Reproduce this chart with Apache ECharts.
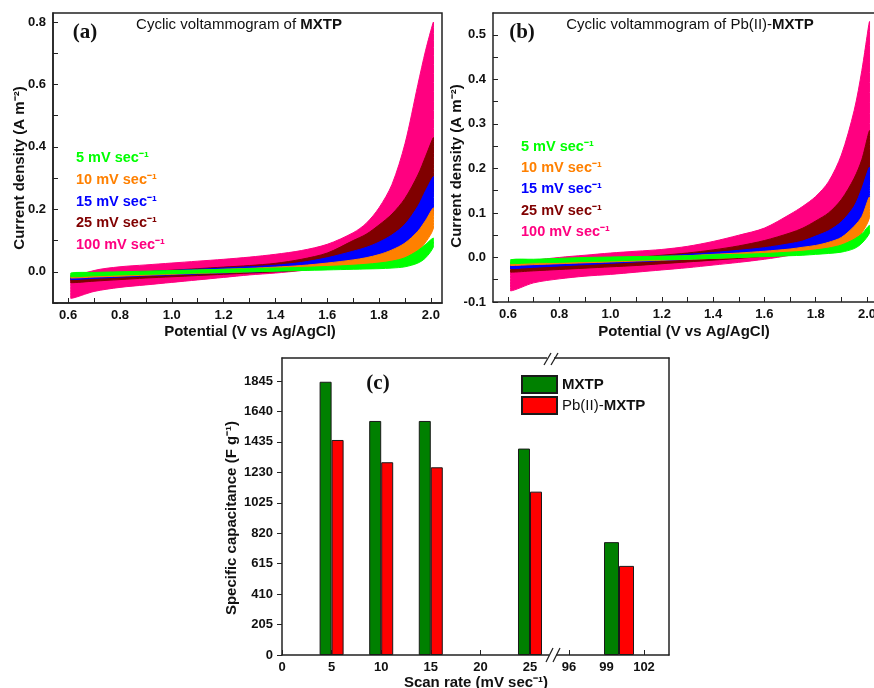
<!DOCTYPE html>
<html><head><meta charset="utf-8">
<script src="https://cdn.jsdelivr.net/npm/echarts@6/dist/echarts.min.js"></script>
<style>html,body{margin:0;padding:0;background:#fff}#c{width:874px;height:688px}</style>
</head><body><div id="c"></div><script>
// ---------- DATA ----------
const potential = [0.61,0.7,0.8,0.9,1.0,1.1,1.2,1.3,1.4,1.5,1.6,1.7,1.75,1.8,1.85,1.9,1.95,1.98,2.01];
const rateLabels = ['5 mV sec\u207B\u00B9','10 mV sec\u207B\u00B9','15 mV sec\u207B\u00B9','25 mV sec\u207B\u00B9','100 mV sec\u207B\u00B9'];
// (a) MXTP : forward (upper) and reverse (lower) branches
const aGreenFwd  = [-0.004,-0.002,0.0,0.002,0.004,0.006,0.008,0.010,0.012,0.014,0.017,0.021,0.024,0.028,0.034,0.045,0.068,0.088,0.108];
const aGreenRev  = [-0.016,-0.013,-0.010,-0.008,-0.006,-0.004,-0.002,0.0,0.002,0.004,0.006,0.008,0.009,0.010,0.012,0.016,0.028,0.045,0.080];
const aOrangeFwd = [-0.010,-0.007,-0.004,-0.001,0.002,0.005,0.008,0.011,0.015,0.020,0.028,0.038,0.045,0.055,0.070,0.092,0.130,0.165,0.205];
const aOrangeRev = [-0.020,-0.017,-0.014,-0.011,-0.008,-0.005,-0.003,0.0,0.003,0.006,0.010,0.015,0.019,0.024,0.032,0.045,0.068,0.095,0.140];
const aBlueFwd   = [-0.012,-0.008,-0.004,0.0,0.004,0.008,0.012,0.016,0.021,0.030,0.045,0.066,0.078,0.095,0.118,0.152,0.210,0.260,0.305];
const aBlueRev   = [-0.025,-0.021,-0.017,-0.013,-0.010,-0.007,-0.004,-0.001,0.002,0.006,0.011,0.018,0.024,0.032,0.044,0.062,0.095,0.130,0.190];
const aMaroonFwd = [-0.015,-0.010,-0.005,0.0,0.005,0.010,0.015,0.020,0.027,0.040,0.060,0.100,0.120,0.150,0.185,0.235,0.310,0.370,0.430];
const aMaroonRev = [-0.035,-0.030,-0.025,-0.020,-0.016,-0.012,-0.008,-0.004,0.0,0.005,0.012,0.022,0.030,0.042,0.060,0.085,0.130,0.180,0.260];
const aPinkFwd   = [-0.025,0.004,0.016,0.022,0.028,0.034,0.040,0.047,0.056,0.068,0.088,0.125,0.155,0.205,0.280,0.410,0.600,0.710,0.800];
const aPinkRev   = [-0.085,-0.063,-0.050,-0.042,-0.034,-0.026,-0.018,-0.010,-0.004,0.004,0.014,0.030,0.042,0.060,0.085,0.120,0.190,0.260,0.380];
// (b) Pb(II)-MXTP
const bGreenFwd  = [-0.005,-0.004,-0.002,0.0,0.001,0.002,0.003,0.004,0.006,0.007,0.009,0.012,0.014,0.017,0.021,0.028,0.041,0.053,0.072];
const bGreenRev  = [-0.014,-0.012,-0.011,-0.009,-0.008,-0.006,-0.005,-0.004,-0.002,0.0,0.002,0.004,0.005,0.007,0.009,0.012,0.020,0.032,0.055];
const bOrangeFwd = [-0.010,-0.008,-0.006,-0.004,-0.002,0.0,0.002,0.004,0.007,0.010,0.014,0.019,0.023,0.027,0.034,0.045,0.070,0.092,0.136];
const bOrangeRev = [-0.018,-0.016,-0.014,-0.012,-0.010,-0.008,-0.006,-0.004,-0.002,0.0,0.003,0.006,0.008,0.011,0.015,0.022,0.035,0.055,0.090];
const bBlueFwd   = [-0.015,-0.012,-0.009,-0.006,-0.003,0.0,0.003,0.007,0.011,0.016,0.022,0.031,0.037,0.048,0.060,0.080,0.115,0.155,0.203];
const bBlueRev   = [-0.025,-0.022,-0.019,-0.016,-0.013,-0.010,-0.007,-0.004,-0.001,0.002,0.005,0.010,0.014,0.019,0.026,0.036,0.056,0.080,0.130];
const bMaroonFwd = [-0.020,-0.016,-0.012,-0.008,-0.004,0.0,0.005,0.010,0.017,0.026,0.038,0.055,0.066,0.082,0.100,0.130,0.178,0.220,0.285];
const bMaroonRev = [-0.033,-0.030,-0.027,-0.024,-0.021,-0.018,-0.014,-0.010,-0.006,-0.002,0.003,0.010,0.015,0.022,0.032,0.048,0.075,0.110,0.170];
const bPinkFwd   = [-0.030,-0.008,0.000,0.005,0.010,0.014,0.018,0.025,0.036,0.050,0.066,0.097,0.115,0.137,0.170,0.230,0.330,0.420,0.530];
const bPinkRev   = [-0.075,-0.057,-0.048,-0.042,-0.038,-0.033,-0.028,-0.023,-0.017,-0.011,-0.004,0.005,0.012,0.020,0.032,0.050,0.090,0.140,0.220];
// (c) specific capacitance
const scanRatesLow = [5, 10, 15, 25];
const mxtpLow = [1840, 1576, 1576, 1390];
const pbLow   = [1448, 1298, 1264, 1100];
const scanRatesHigh = [100];
const mxtpHigh = [760];
const pbHigh   = [600];
const capTicks = [0,205,410,615,820,1025,1230,1435,1640,1845];
const scanTicksLow = [0,5,10,15,20,25];
const scanTicksHigh = [96,99,102];

// ---------- STYLE ----------
const FONT = 'Arial, "Liberation Sans", Helvetica, sans-serif';
const SERIF = '"Palatino Linotype", "Book Antiqua", "Liberation Serif", "DejaVu Serif", serif';
const AX = '#222';
const colors = ['#00ff00','#ff8000','#0000ff','#800000','#ff0080'];

function range(a, b, s){ const r=[]; for(let v=a; v<=b+1e-9; v+=s) r.push(+v.toFixed(3)); return r; }

function loopSeries(name, color, fwd, rev, gi){
  const pts = [];
  for (let i=0;i<potential.length;i++) pts.push([potential[i], fwd[i]]);
  for (let i=potential.length-1;i>=0;i--) pts.push([potential[i], rev[i]]);
  return {
    type:'custom', name:name, xAxisIndex:gi, yAxisIndex:gi, data:pts,
    encode:{x:0,y:1}, silent:true, animation:false, clip:true,
    renderItem:function(params, api){
      if (params.dataIndex !== 0) return null;
      const points = pts.map(p => api.coord(p));
      let x0=Infinity,y0=Infinity,x1=-Infinity,y1=-Infinity;
      points.forEach(p=>{x0=Math.min(x0,p[0]);y0=Math.min(y0,p[1]);x1=Math.max(x1,p[0]);y1=Math.max(y1,p[1]);});
      return {type:'polygon', shape:{points:points, smooth:0.3, smoothConstraint:[[x0,y0],[x1,y1]]}, style:{fill:color, stroke:color, lineWidth:1}};
    }
  };
}

function cvXAxis(gi, max){
  return {type:'value', gridIndex:gi, min:0.5415, max:max,
    axisLine:{show:true, onZero:false, lineStyle:{color:AX,width:1.5}},
    axisTick:{show:true, inside:true, length:5, lineStyle:{color:AX}, customValues:range(0.6,2.0,0.1)},
    axisLabel:{customValues:range(0.6,2.0,0.2), formatter:v=>(+v).toFixed(1), color:'#111', fontWeight:'bold', fontSize:13, fontFamily:FONT, margin:6},
    splitLine:{show:false}};
}
function topLine(gi, min, max){
  return {type:'value', gridIndex:gi, position:'top', min:min, max:max,
    axisLine:{show:true, onZero:false, lineStyle:{color:AX,width:1.5}}, axisTick:{show:false}, axisLabel:{show:false}, splitLine:{show:false}};
}
function cvYAxis(gi, min, max, tickStep, labelStart, labelStep){
  return {type:'value', gridIndex:gi, min:min, max:max,
    axisLine:{show:true, onZero:false, lineStyle:{color:AX,width:1.5}},
    axisTick:{show:true, inside:true, length:5, lineStyle:{color:AX}, customValues:range(min, max, tickStep)},
    axisLabel:{customValues:range(labelStart, max, labelStep), formatter:v=>(+v).toFixed(1), color:'#111', fontWeight:'bold', fontSize:13, fontFamily:FONT, margin:7},
    splitLine:{show:false}};
}

function txt(x, y, text, opts){
  return Object.assign({type:'text', x:x, y:y, z:100, silent:true,
    style:Object.assign({text:text, fill:'#111', font:'bold 15px '+FONT, align:'center', verticalAlign:'middle', textAlign:'center', textVerticalAlign:'middle'}, opts && opts.style || {})},
    opts && opts.el || {});
}
function richTitle(x, y, plain, bold){
  return {type:'text', x:x, y:y, z:100, silent:true, style:{
    text:'{n|'+plain+'}{b|'+bold+'}', align:'center', verticalAlign:'middle', textAlign:'center', textVerticalAlign:'middle',
    rich:{n:{fontSize:15, fontFamily:FONT, fill:'#111', color:'#111'}, b:{fontSize:15, fontFamily:FONT, fontWeight:'bold', fill:'#111', color:'#111'}}}};
}

const graphics = [];
// titles & panel tags
graphics.push(richTitle(239, 25, 'Cyclic voltammogram of ', 'MXTP'));
graphics.push(richTitle(690, 25, 'Cyclic voltammogram of Pb(II)-', 'MXTP'));
graphics.push(txt(85, 33, '(a)', {style:{font:'bold 21px '+SERIF}}));
graphics.push(txt(522, 33, '(b)', {style:{font:'bold 21px '+SERIF}}));
graphics.push(txt(378, 384, '(c)', {style:{font:'bold 21px '+SERIF}}));
// axis names
graphics.push(txt(20, 168, 'Current density (A m\u207B\u00B2)', {el:{rotation:Math.PI/2}}));
graphics.push(txt(457, 166, 'Current density (A m\u207B\u00B2)', {el:{rotation:Math.PI/2}}));
graphics.push(txt(250, 332, 'Potential (V vs Ag/AgCl)'));
graphics.push(txt(684, 332, 'Potential (V vs Ag/AgCl)'));
graphics.push(txt(232, 518, 'Specific capacitance (F g\u207B\u00B9)', {el:{rotation:Math.PI/2}}));
graphics.push(txt(476, 683, 'Scan rate (mV sec\u207B\u00B9)'));
// rate labels
const aLabelY = [158,180,202,223,245], bLabelY = [147,168,189,211,232];
rateLabels.forEach((t,i)=>{
  graphics.push(txt(76, aLabelY[i], t, {style:{fill:colors[i], font:'bold 14.5px '+FONT, align:'left', textAlign:'left'}}));
  graphics.push(txt(521, bLabelY[i], t, {style:{fill:colors[i], font:'bold 14.5px '+FONT, align:'left', textAlign:'left'}}));
});
// axis break marks on panel (c)
graphics.push({type:'rect', z:99, silent:true, shape:{x:549, y:651, width:7, height:8}, style:{fill:'#fff'}});
graphics.push({type:'rect', z:99, silent:true, shape:{x:547, y:354, width:7, height:8}, style:{fill:'#fff'}});
[[546,662,553,648],[553,662,560,648],[544,365,551,353],[551,365,558,353]].forEach(s=>{
  graphics.push({type:'line', z:100, silent:true, shape:{x1:s[0],y1:s[1],x2:s[2],y2:s[3]}, style:{stroke:AX, lineWidth:1.3}});
});

const option = {
  backgroundColor:'#fff',
  animation:false,
  textStyle:{fontFamily:FONT},
  grid:[
    {left:53, top:13, width:389, height:290, show:true, borderColor:AX, borderWidth:1.5, backgroundColor:'transparent', outerBoundsMode:'none', containLabel:false},
    {left:493, top:13, width:385, height:289, outerBoundsMode:'none', containLabel:false},
    {left:282, top:358, width:271, height:297, outerBoundsMode:'none', containLabel:false},
    {left:553, top:358, width:116, height:297, outerBoundsMode:'none', containLabel:false}
  ],
  xAxis:[
    cvXAxis(0, 2.043), cvXAxis(1, 2.043),
    {type:'value', gridIndex:2, min:0, max:27.32,
      axisLine:{show:true, onZero:false, lineStyle:{color:AX,width:1.5}},
      axisTick:{show:true, inside:true, length:5, lineStyle:{color:AX}, customValues:scanTicksLow},
      axisLabel:{customValues:scanTicksLow, formatter:v=>String(v), color:'#111', fontWeight:'bold', fontSize:13, fontFamily:FONT, margin:6},
      splitLine:{show:false}},
    {type:'value', gridIndex:3, min:94.72, max:104.0,
      axisLine:{show:true, onZero:false, lineStyle:{color:AX,width:1.5}},
      axisTick:{show:true, inside:true, length:5, lineStyle:{color:AX}, customValues:scanTicksHigh},
      axisLabel:{customValues:scanTicksHigh, formatter:v=>String(v), color:'#111', fontWeight:'bold', fontSize:13, fontFamily:FONT, margin:6},
      splitLine:{show:false}},
    topLine(2, 0, 27.32),
    topLine(3, 94.72, 104.0),
    topLine(1, 0.5415, 2.043)
  ],
  yAxis:[
    cvYAxis(0, -0.1, 0.829, 0.1, 0.0, 0.2),
    cvYAxis(1, -0.1, 0.549, 0.05, -0.1, 0.1),
    {type:'value', gridIndex:2, min:0, max:2000,
      axisLine:{show:true, onZero:false, lineStyle:{color:AX,width:1.5}},
      axisTick:{show:true, inside:false, length:5, lineStyle:{color:AX}, customValues:capTicks},
      axisLabel:{customValues:capTicks, formatter:v=>String(Math.round(v)), color:'#111', fontWeight:'bold', fontSize:13, fontFamily:FONT, margin:9},
      splitLine:{show:false}},
    {type:'value', gridIndex:3, position:'right', min:0, max:2000,
      axisLine:{show:true, onZero:false, lineStyle:{color:AX,width:1.5}}, axisTick:{show:false}, axisLabel:{show:false}, splitLine:{show:false}}
  ],
  legend:{
    data:['MXTP','Pb(II)-MXTP'], orient:'vertical', left:521, top:375, padding:0, itemWidth:35, itemHeight:17, itemGap:2,
    icon:'rect', selectedMode:false,
    formatter:n => n==='MXTP' ? '{b|MXTP}' : '{n|Pb(II)-}{b|MXTP}',
    textStyle:{rich:{n:{fontSize:15, fontFamily:FONT, color:'#111', lineHeight:17}, b:{fontSize:15, fontFamily:FONT, fontWeight:'bold', color:'#111', lineHeight:17}}}
  },
  series:[
    loopSeries('a100', colors[4], aPinkFwd, aPinkRev, 0),
    loopSeries('a25', colors[3], aMaroonFwd, aMaroonRev, 0),
    loopSeries('a15', colors[2], aBlueFwd, aBlueRev, 0),
    loopSeries('a10', colors[1], aOrangeFwd, aOrangeRev, 0),
    loopSeries('a5', colors[0], aGreenFwd, aGreenRev, 0),
    loopSeries('b100', colors[4], bPinkFwd, bPinkRev, 1),
    loopSeries('b25', colors[3], bMaroonFwd, bMaroonRev, 1),
    loopSeries('b15', colors[2], bBlueFwd, bBlueRev, 1),
    loopSeries('b10', colors[1], bOrangeFwd, bOrangeRev, 1),
    loopSeries('b5', colors[0], bGreenFwd, bGreenRev, 1),
    {type:'bar', name:'MXTP', xAxisIndex:2, yAxisIndex:2, barWidth:12, barGap:'0%',
      data:scanRatesLow.map((x,i)=>[x, mxtpLow[i]]), itemStyle:{color:'#008000', borderColor:'#1a1a1a', borderWidth:1}},
    {type:'bar', name:'Pb(II)-MXTP', xAxisIndex:2, yAxisIndex:2, barWidth:12, barGap:'0%',
      data:scanRatesLow.map((x,i)=>[x, pbLow[i]]), itemStyle:{color:'#ff0000', borderColor:'#1a1a1a', borderWidth:1}},
    {type:'bar', name:'MXTP', xAxisIndex:3, yAxisIndex:3, barWidth:15, barGap:'0%',
      data:scanRatesHigh.map((x,i)=>[x, mxtpHigh[i]]), itemStyle:{color:'#008000', borderColor:'#1a1a1a', borderWidth:1}},
    {type:'bar', name:'Pb(II)-MXTP', xAxisIndex:3, yAxisIndex:3, barWidth:15, barGap:'0%',
      data:scanRatesHigh.map((x,i)=>[x, pbHigh[i]]), itemStyle:{color:'#ff0000', borderColor:'#1a1a1a', borderWidth:1}}
  ],
  graphic:graphics
};
const chart = echarts.init(document.getElementById('c'), null, {renderer:'canvas'});
chart.setOption(option);
</script></body></html>
